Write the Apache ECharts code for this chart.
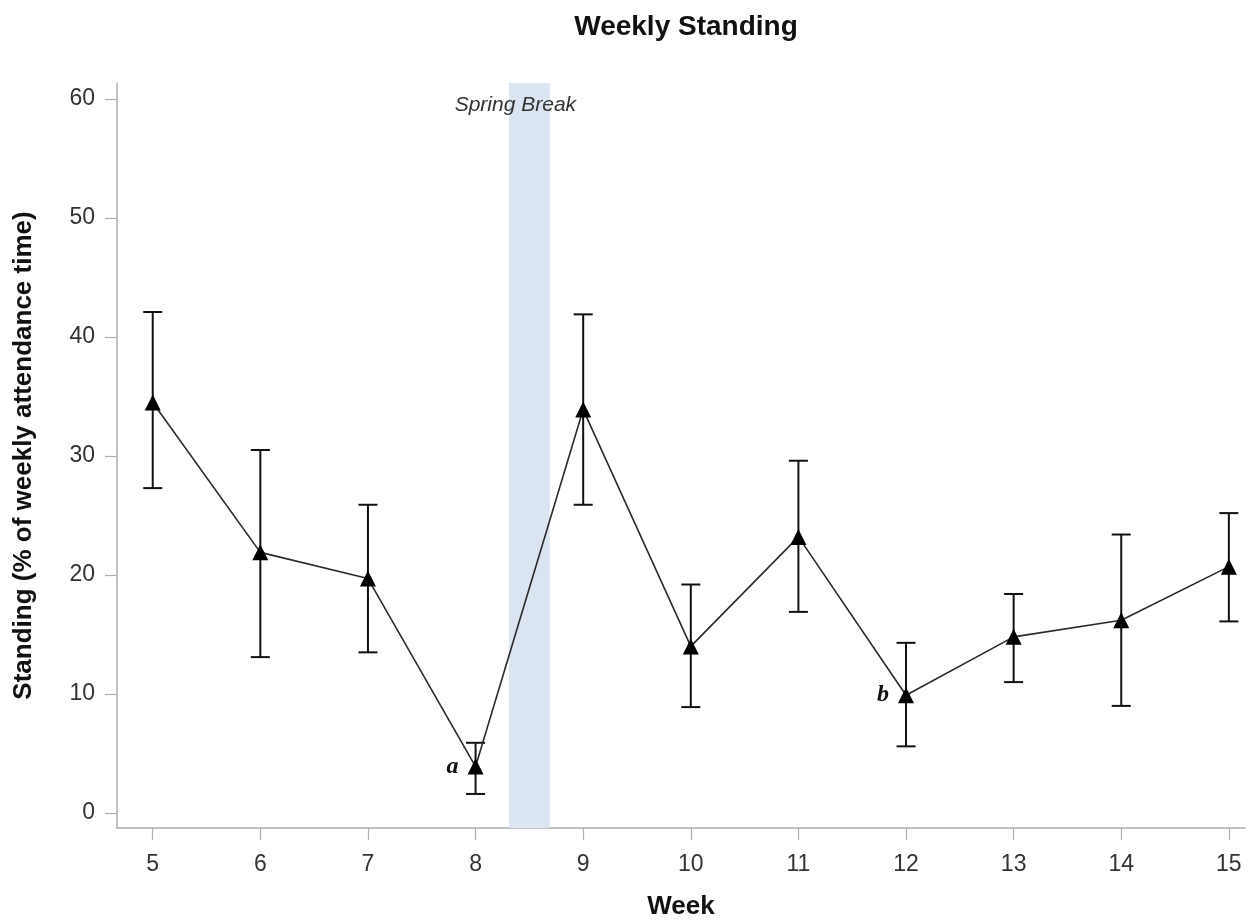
<!DOCTYPE html>
<html>
<head>
<meta charset="utf-8">
<script src="https://cdn.jsdelivr.net/npm/echarts@6/dist/echarts.min.js"></script>
<style>
html,body{margin:0;padding:0;background:#fff;}
#chart{width:1254px;height:920px;}
</style>
</head>
<body>
<div id="chart"></div>
<script>
// Data
const weeks = [5, 6, 7, 8, 9, 10, 11, 12, 13, 14, 15];
const means = [34.5, 21.9, 19.7, 3.9, 33.9, 14.0, 23.2, 9.9, 14.8, 16.2, 20.7];
const upper = [42.1, 30.5, 25.9, 5.9, 41.9, 19.2, 29.6, 14.3, 18.4, 23.4, 25.2];
const lower = [27.3, 13.1, 13.5, 1.6, 25.9, 8.9, 16.9, 5.6, 11.0, 9.0, 16.1];
const xTicks = [5, 6, 7, 8, 9, 10, 11, 12, 13, 14, 15];
const yTicks = [0, 10, 20, 30, 40, 50, 60];
const springBreak = [8.31, 8.69];
const annotations = { 8: 'a', 12: 'b' };

const axisColor = '#a9afb5';
const textColor = '#333333';
const font = 'Liberation Sans, Arial, sans-serif';

const chart = echarts.init(document.getElementById('chart'), null, { renderer: 'canvas' });

const lineData = weeks.map((w, i) => {
  const item = { value: [w, means[i]] };
  if (annotations[w]) {
    item.label = {
      show: true,
      position: 'left',
      distance: 9,
      formatter: annotations[w],
      fontFamily: 'Liberation Serif, DejaVu Serif, serif',
      fontStyle: 'italic',
      fontWeight: 'bold',
      fontSize: 24,
      color: '#111'
    };
  }
  return item;
});

const errData = weeks.map((w, i) => [w, lower[i], upper[i]]);

const option = {
  backgroundColor: '#ffffff',
  animation: false,
  title: {
    text: 'Weekly Standing',
    left: 681,
    textAlign: 'center',
    top: 8,
    textStyle: { fontFamily: font, fontWeight: 'bold', fontSize: 28, color: '#111' }
  },
  grid: { left: 117, right: 9, top: 83, bottom: 92, containLabel: false, outerBoundsMode: 'none' },
  xAxis: {
    type: 'value',
    min: 4.668,
    max: 15.15,
    name: 'Week',
    nameLocation: 'middle',
    nameGap: 66,
    nameTextStyle: { fontFamily: font, fontWeight: 'bold', fontSize: 26, color: '#111' },
    axisLine: { show: true, onZero: false, lineStyle: { color: axisColor, width: 1.5 } },
    axisTick: { show: true, length: 12, lineStyle: { color: axisColor, width: 1.2 }, customValues: xTicks },
    axisLabel: { fontFamily: font, fontSize: 23, color: textColor, margin: 25, customValues: xTicks, formatter: v => String(v) },
    splitLine: { show: false }
  },
  yAxis: {
    type: 'value',
    min: -1.26,
    max: 61.34,
    name: 'Standing (% of weekly attendance time)',
    nameLocation: 'middle',
    nameGap: 80,
    nameTextStyle: { fontFamily: font, fontWeight: 'bold', fontSize: 26, color: '#111' },
    axisLine: { show: true, onZero: false, lineStyle: { color: axisColor, width: 1.5 } },
    axisTick: { show: true, length: 12, lineStyle: { color: axisColor, width: 1.2 }, customValues: yTicks },
    axisLabel: { fontFamily: font, fontSize: 23, color: textColor, margin: 22, customValues: yTicks, formatter: v => String(v) },
    splitLine: { show: false }
  },
  series: [
    {
      type: 'custom',
      name: 'err',
      z: 1,
      data: errData,
      renderItem: function (params, api) {
        const x = api.value(0);
        const lo = api.coord([x, api.value(1)]);
        const hi = api.coord([x, api.value(2)]);
        const hw = 9.5;
        const style = { stroke: '#111', lineWidth: 2 };
        return {
          type: 'group',
          children: [
            { type: 'line', shape: { x1: lo[0], y1: lo[1], x2: hi[0], y2: hi[1] }, style },
            { type: 'line', shape: { x1: lo[0] - hw, y1: lo[1], x2: lo[0] + hw, y2: lo[1] }, style },
            { type: 'line', shape: { x1: hi[0] - hw, y1: hi[1], x2: hi[0] + hw, y2: hi[1] }, style }
          ]
        };
      }
    },
    {
      type: 'line',
      name: 'Standing',
      z: 3,
      data: lineData,
      symbol: 'triangle',
      symbolSize: 16,
      itemStyle: { color: '#000' },
      lineStyle: { color: '#2a2a2a', width: 1.6 },
      markArea: {
        silent: true,
        itemStyle: { color: '#dbe4f1' },
        label: {
          show: true,
          position: 'insideTop',
          distance: 12,
          offset: [-14, 0],
          formatter: 'Spring Break',
          fontFamily: font,
          fontStyle: 'italic',
          fontSize: 21,
          color: textColor
        },
        data: [[{ xAxis: springBreak[0] }, { xAxis: springBreak[1] }]]
      }
    }
  ]
};

chart.setOption(option);
</script>
</body>
</html>
